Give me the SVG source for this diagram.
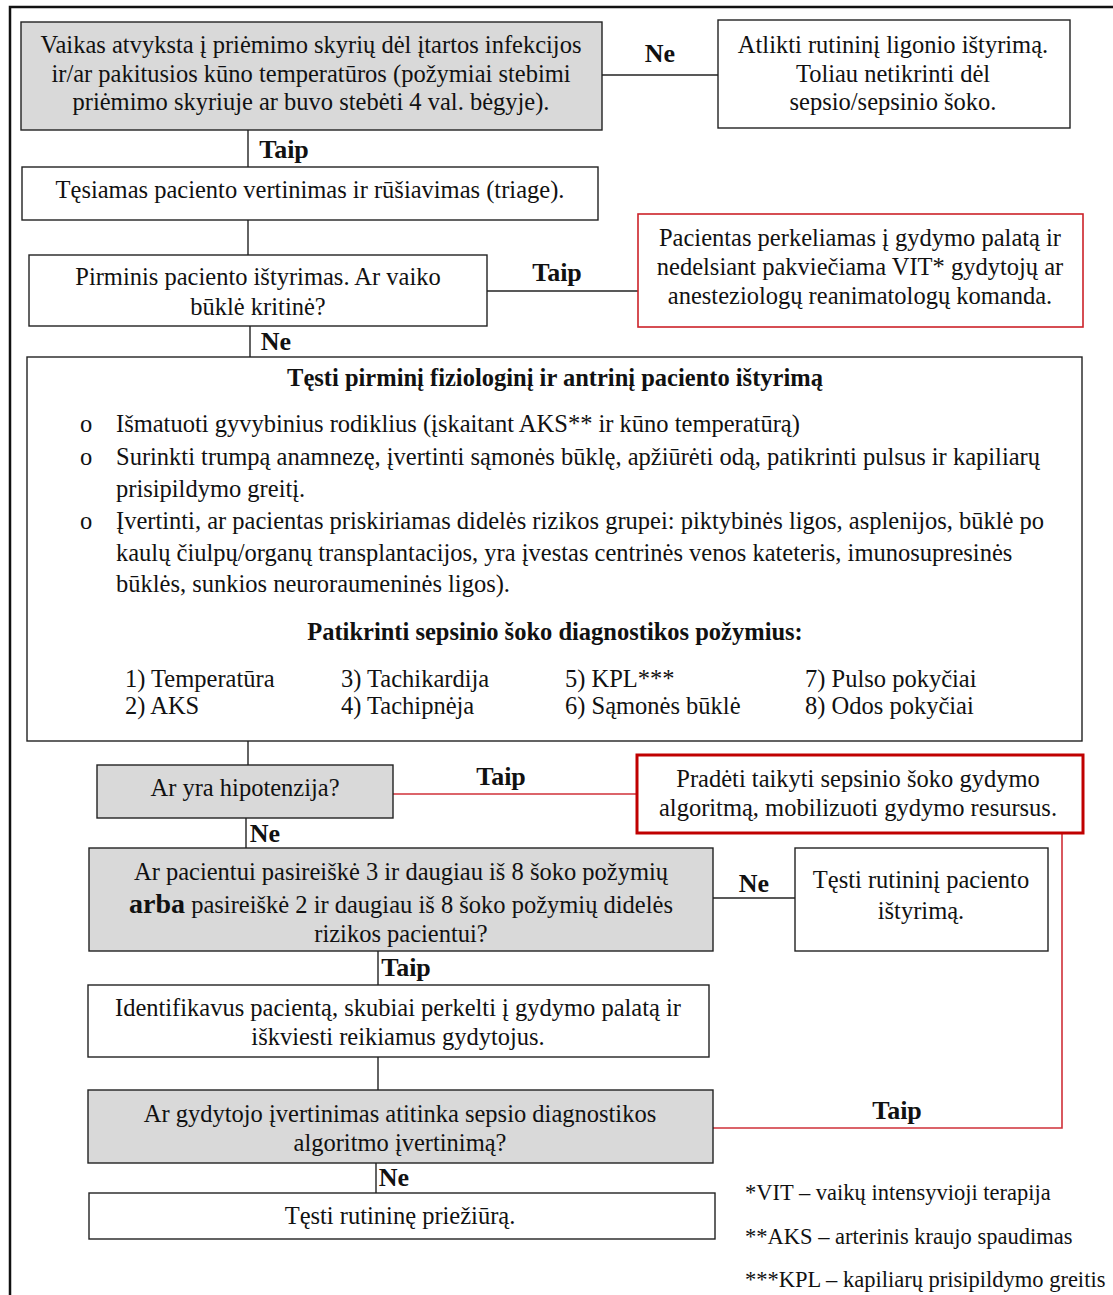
<svg xmlns="http://www.w3.org/2000/svg" width="1113" height="1295" viewBox="0 0 1113 1295">
  <style>
    text { font-family: "Liberation Serif", "Times New Roman", serif; font-size: 24.5px; fill: #111; }
    .c { text-anchor: middle; }
    .b { font-weight: bold; }
    .box { fill: #fff; stroke: #222; stroke-width: 1.4; }
    .grey { fill: #d9d9d9; stroke: #222; stroke-width: 1.4; }
    .red { fill: #fff; stroke: #cc2229; stroke-width: 1.6; }
    .redthick { fill: #fff; stroke: #c00000; stroke-width: 3; }
    .ln { stroke: #222; stroke-width: 1.4; fill: none; }
    .rln { stroke: #d03038; stroke-width: 1.6; fill: none; }
    .lbl { font-weight: bold; font-size: 26px; text-anchor: middle; }
    .fn { font-size: 22.5px; }
  </style>
  <rect x="0" y="0" width="1113" height="1295" fill="#fff"/>
  <!-- outer frame -->
  <path d="M10 1300 V7 H1120" fill="none" stroke="#111" stroke-width="2.5"/>

  <g id="connectors">
    <path class="ln" d="M602 75 H718"/>
    <path class="ln" d="M248 130 V167"/>
    <path class="ln" d="M248 220 V255"/>
    <path class="ln" d="M487 291 H638"/>
    <path class="ln" d="M250 326 V357"/>
    <path class="ln" d="M248 741 V765"/>
    <path class="rln" d="M393 794 H637"/>
    <path class="ln" d="M246 818 V848"/>
    <path class="ln" d="M713 898 H795"/>
    <path class="ln" d="M378 951 V985"/>
    <path class="ln" d="M378 1057 V1090"/>
    <path class="rln" d="M713 1128 H1062 V833"/>
    <path class="ln" d="M376 1163 V1193"/>
    <text class="lbl" x="660" y="62">Ne</text>
    <text class="lbl" x="284" y="158">Taip</text>
    <text class="lbl" x="557" y="281">Taip</text>
    <text class="lbl" x="276" y="350">Ne</text>
    <text class="lbl" x="501" y="785">Taip</text>
    <text class="lbl" x="265" y="842">Ne</text>
    <text class="lbl" x="754" y="892">Ne</text>
    <text class="lbl" x="406" y="976">Taip</text>
    <text class="lbl" x="897" y="1119">Taip</text>
    <text class="lbl" x="394" y="1186">Ne</text>
  </g>

  <g id="n-start">
    <rect class="grey" x="21" y="22" width="581" height="108"/>
    <text class="c" x="311" y="53">Vaikas atvyksta į priėmimo skyrių dėl įtartos infekcijos</text>
    <text class="c" x="311" y="82">ir/ar pakitusios kūno temperatūros (požymiai stebimi</text>
    <text class="c" x="311" y="110">priėmimo skyriuje ar buvo stebėti 4 val. bėgyje).</text>
  </g>

  <g id="n-routine-exam">
    <rect class="box" x="718" y="20" width="352" height="108"/>
    <text class="c" x="893" y="53">Atlikti rutininį ligonio ištyrimą.</text>
    <text class="c" x="893" y="82">Toliau netikrinti dėl</text>
    <text class="c" x="893" y="110">sepsio/sepsinio šoko.</text>
  </g>

  <g id="n-triage">
    <rect class="box" x="22" y="167" width="576" height="53"/>
    <text class="c" x="310" y="198">Tęsiamas paciento vertinimas ir rūšiavimas (triage).</text>
  </g>

  <g id="n-primary">
    <rect class="box" x="29" y="255" width="458" height="71"/>
    <text class="c" x="258" y="285">Pirminis paciento ištyrimas. Ar vaiko</text>
    <text class="c" x="258" y="315">būklė kritinė?</text>
  </g>

  <g id="n-icu">
    <rect class="red" x="638" y="214" width="445" height="113"/>
    <text class="c" x="860" y="246">Pacientas perkeliamas į gydymo palatą ir</text>
    <text class="c" x="860" y="275">nedelsiant pakviečiama VIT* gydytojų ar</text>
    <text class="c" x="860" y="304">anesteziologų reanimatologų komanda.</text>
  </g>

  <g id="n-assessment">
    <rect class="box" x="27" y="357" width="1055" height="384"/>
    <text class="c b" x="555" y="386">Tęsti pirminį fiziologinį ir antrinį paciento ištyrimą</text>
    <g>
      <text x="80" y="432">o</text>
      <text x="116" y="432">Išmatuoti gyvybinius rodiklius (įskaitant AKS** ir kūno temperatūrą)</text>
      <text x="80" y="465">o</text>
      <text x="116" y="465">Surinkti trumpą anamnezę, įvertinti sąmonės būklę, apžiūrėti odą, patikrinti pulsus ir kapiliarų</text>
      <text x="116" y="497">prisipildymo greitį.</text>
      <text x="80" y="529">o</text>
      <text x="116" y="529">Įvertinti, ar pacientas priskiriamas didelės rizikos grupei: piktybinės ligos, asplenijos, būklė po</text>
      <text x="116" y="561">kaulų čiulpų/organų transplantacijos, yra įvestas centrinės venos kateteris, imunosupresinės</text>
      <text x="116" y="592">būklės, sunkios neuroraumeninės ligos).</text>
    </g>
    <text class="c b" x="555" y="640">Patikrinti sepsinio šoko diagnostikos požymius:</text>
    <g>
      <text x="125" y="687">1) Temperatūra</text>
      <text x="125" y="714">2) AKS</text>
      <text x="341" y="687">3) Tachikardija</text>
      <text x="341" y="714">4) Tachipnėja</text>
      <text x="565" y="687">5) KPL***</text>
      <text x="565" y="714">6) Sąmonės būklė</text>
      <text x="805" y="687">7) Pulso pokyčiai</text>
      <text x="805" y="714">8) Odos pokyčiai</text>
    </g>
  </g>

  <g id="n-hypotension">
    <rect class="grey" x="97" y="765" width="296" height="53"/>
    <text class="c" x="245" y="796">Ar yra hipotenzija?</text>
  </g>

  <g id="n-treatment">
    <rect class="redthick" x="637" y="755" width="446" height="78"/>
    <text class="c" x="858" y="787">Pradėti taikyti sepsinio šoko gydymo</text>
    <text class="c" x="858" y="816">algoritmą, mobilizuoti gydymo resursus.</text>
  </g>

  <g id="n-signs">
    <rect class="grey" x="89" y="848" width="624" height="103"/>
    <text class="c" x="401" y="880">Ar pacientui pasireiškė 3 ir daugiau iš 8 šoko požymių</text>
    <text class="c" x="401" y="913"><tspan class="b" font-size="28">arba</tspan> pasireiškė 2 ir daugiau iš 8 šoko požymių didelės</text>
    <text class="c" x="401" y="942">rizikos pacientui?</text>
  </g>

  <g id="n-routine-continue">
    <rect class="box" x="795" y="848" width="253" height="103"/>
    <text class="c" x="921" y="888">Tęsti rutininį paciento</text>
    <text class="c" x="921" y="919">ištyrimą.</text>
  </g>

  <g id="n-identify">
    <rect class="box" x="88" y="985" width="621" height="72"/>
    <text class="c" x="398" y="1016">Identifikavus pacientą, skubiai perkelti į gydymo palatą ir</text>
    <text class="c" x="398" y="1045">iškviesti reikiamus gydytojus.</text>
  </g>

  <g id="n-doctor">
    <rect class="grey" x="88" y="1090" width="625" height="73"/>
    <text class="c" x="400" y="1122">Ar gydytojo įvertinimas atitinka sepsio diagnostikos</text>
    <text class="c" x="400" y="1151">algoritmo įvertinimą?</text>
  </g>

  <g id="n-routine-care">
    <rect class="box" x="89" y="1193" width="626" height="46"/>
    <text class="c" x="400" y="1224">Tęsti rutininę priežiūrą.</text>
  </g>

  <g id="footnotes">
    <text class="fn" x="745" y="1200">*VIT – vaikų intensyvioji terapija</text>
    <text class="fn" x="745" y="1244">**AKS – arterinis kraujo spaudimas</text>
    <text class="fn" x="745" y="1287">***KPL – kapiliarų prisipildymo greitis</text>
  </g>
</svg>
